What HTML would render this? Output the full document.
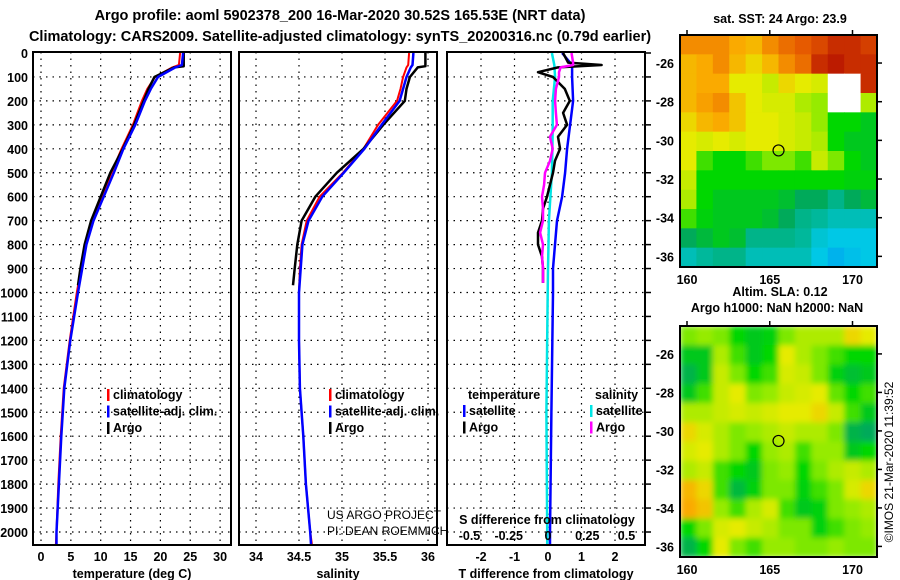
<!DOCTYPE html>
<html><head><meta charset="utf-8"><style>
html,body{margin:0;padding:0;background:#fff}
svg{display:block}
text{font-family:"Liberation Sans",sans-serif;font-weight:bold;font-size:12.5px;fill:#000}
</style></head><body>
<svg id="c" width="900" height="580" viewBox="0 0 900 580">
<text x="340" y="20" text-anchor="middle" style="font-size:14.5px">Argo profile: aoml 5902378_200 16-Mar-2020 30.52S 165.53E (NRT data)</text>
<text x="340" y="41" text-anchor="middle" style="font-size:14.5px">Climatology: CARS2009. Satellite-adjusted climatology: synTS_20200316.nc (0.79d earlier)</text>
</svg>
<script>
// ---- data ----
const depths=[0,50,60,100,150,200,300,400,500,600,700,800,900,1000,1200,1400,1600,1800,2000,2050];
const tempClim=[23.3,23.1,22.0,19.1,17.8,16.9,15.4,13.5,11.8,10.2,8.7,7.4,6.7,6.0,4.8,3.8,3.3,2.9,2.6,2.5];
const tempSat=[23.8,23.6,22.5,19.6,18.4,17.4,15.8,13.8,12.2,10.5,8.8,7.6,6.9,6.2,4.9,3.9,3.4,3.0,2.6,2.6];
const argoDepths=[0,55,60,100,150,200,300,400,500,600,700,800,900,970];
const tempArgo=[23.9,23.9,22.3,19.0,18.0,17.2,15.6,13.7,11.6,10.0,8.4,7.3,6.6,6.2];
const salClim=[35.78,35.77,35.75,35.71,35.68,35.64,35.42,35.25,35.01,34.74,34.59,34.53,34.51,34.50,34.50,34.51,34.55,34.58,34.63,34.65];
const salSat=[35.83,35.82,35.8,35.75,35.71,35.67,35.46,35.26,35.02,34.77,34.61,34.54,34.52,34.50,34.50,34.51,34.55,34.58,34.63,34.64];
const salArgo=[35.97,35.97,35.88,35.79,35.75,35.73,35.48,35.25,34.94,34.69,34.53,34.48,34.45,34.43];
const diffDepths=[0,50,100,200,300,400,500,600,700,800,900,1000,1500,2000,2050];
const tDiffSat=[0.42,0.72,0.72,0.75,0.66,0.57,0.51,0.42,0.27,0.21,0.15,0.15,0.1,0.06,0.06];
const sDiffSat=[0.025,0.04,0.045,0.03,0.03,0.028,0.025,0.015,0.006,0.003,0,-0.002,-0.01,-0.005,-0.005];
const argoDiffDepths=[0,40,50,60,80,100,150,200,250,300,350,400,450,500,550,600,650,700,750,800,850,900,960];
const tDiffArgo=[0.45,0.6,1.6,0.3,-0.3,0.15,0.5,0.65,0.45,0.57,0.3,0.36,0.21,0.15,0.06,-0.03,-0.15,-0.18,-0.3,-0.3,-0.18,-0.15,-0.15];
const sDiffArgo=[0.15,0.16,0.16,0.08,0.07,0.07,0.05,0.045,0.05,0.057,0.013,0.03,0.013,-0.019,-0.025,-0.038,-0.032,-0.032,-0.05,-0.032,-0.038,-0.032,-0.032];
const depthTicks=[0,100,200,300,400,500,600,700,800,900,1000,1100,1200,1300,1400,1500,1600,1700,1800,1900,2000];
const tempTicks=[0,5,10,15,20,25,30];
const salTicks=[34,34.5,35,35.5,36];
const tDiffTicks=[-2,-1,0,1,2];
const sDiffTicks=[-0.5,-0.25,0,0.25,0.5];
const sstGrid=[
[0.85,0.85,0.85,0.82,0.8,0.85,0.88,0.9,0.92,0.95,0.95,0.93],
[0.8,0.82,0.85,0.8,0.75,0.8,0.85,0.88,0.95,0.97,0.95,0.95],
[0.8,0.82,0.82,0.72,0.72,0.68,0.75,0.72,0.7,null,null,0.95],
[0.8,0.83,0.85,0.78,0.72,0.7,0.7,0.65,0.62,null,null,0.65],
[0.75,0.8,0.82,0.78,0.72,0.72,0.7,0.68,0.62,0.5,0.5,0.45],
[0.72,0.7,0.72,0.7,0.72,0.72,0.7,0.68,0.65,0.5,0.45,0.45],
[0.72,0.55,0.5,0.5,0.55,0.6,0.6,0.55,0.68,0.6,0.5,0.45],
[0.68,0.5,0.5,0.5,0.5,0.5,0.5,0.5,0.5,0.5,0.48,0.48],
[0.65,0.5,0.45,0.45,0.45,0.45,0.42,0.35,0.35,0.3,0.35,0.4],
[0.55,0.48,0.45,0.45,0.45,0.42,0.35,0.3,0.28,0.25,0.25,0.25],
[0.35,0.4,0.45,0.42,0.3,0.3,0.3,0.28,0.22,0.2,0.2,0.2],
[0.25,0.28,0.3,0.3,0.25,0.25,0.25,0.25,0.2,0.15,0.18,0.2]];
const slaGrid=[
[0.6,0.62,0.6,0.5,0.45,0.48,0.6,0.65,0.65,0.65,0.75,0.72],
[0.45,0.45,0.65,0.55,0.45,0.5,0.72,0.65,0.6,0.55,0.5,0.5],
[0.38,0.45,0.68,0.6,0.5,0.55,0.7,0.68,0.6,0.48,0.42,0.45],
[0.45,0.55,0.68,0.72,0.6,0.62,0.68,0.7,0.72,0.58,0.5,0.55],
[0.65,0.65,0.68,0.7,0.68,0.7,0.72,0.72,0.75,0.68,0.55,0.45],
[0.75,0.7,0.65,0.6,0.62,0.65,0.68,0.65,0.65,0.6,0.38,0.35],
[0.7,0.72,0.65,0.6,0.5,0.62,0.65,0.55,0.62,0.62,0.45,0.5],
[0.65,0.68,0.55,0.5,0.45,0.6,0.62,0.5,0.6,0.65,0.68,0.65],
[0.8,0.75,0.55,0.4,0.48,0.6,0.6,0.48,0.55,0.6,0.7,0.75],
[0.82,0.78,0.62,0.55,0.65,0.7,0.55,0.45,0.48,0.6,0.62,0.65],
[0.5,0.6,0.7,0.72,0.68,0.65,0.6,0.6,0.48,0.55,0.6,0.62],
[0.38,0.5,0.72,0.6,0.55,0.62,0.62,0.6,0.6,0.62,0.6,0.6]];
const latTicks=[-26,-28,-30,-32,-34,-36];
const lonTicks=[160,165,170];
const argoPos=[165.53,-30.52];

// ---- helpers ----
const svg=document.getElementById('c');
const NS='http://www.w3.org/2000/svg';
function mk(tag,attrs,parent){const e=document.createElementNS(NS,tag);for(const k in attrs)e.setAttribute(k,attrs[k]);(parent||svg).appendChild(e);return e;}
function txt(x,y,s,anchor,parent,extra){const t=mk('text',Object.assign({x:x,y:y,'text-anchor':anchor||'start'},extra||{}),parent);t.textContent=s;return t;}
const TOP=52,BOT=545;
const yD=d=>53+d*0.2395;
const panels=[{x0:33,x1:231},{x0:239,x1:437},{x0:447,x1:645}];
const xT=v=>41+v*5.97;
const xS=v=>256+(v-34)*86;
const xTd=v=>548+v*33.5;
const xSd=v=>548+v*157;

function grid(p,xs,name){
  const g=mk('g',{});
  
  
  depthTicks.forEach(d=>{if(d>0)mk('line',{x1:p.x0,x2:p.x1,y1:yD(d),y2:yD(d),stroke:'#000','stroke-width':1.2,'stroke-dasharray':'1.5,5'},g);});
  xs.forEach(x=>mk('line',{x1:x,x2:x,y1:TOP,y2:BOT,stroke:'#000','stroke-width':1.2,'stroke-dasharray':'1.5,5'},g));
}
function frame(p,name){const r=mk('rect',{x:p.x0,y:TOP,width:p.x1-p.x0,height:BOT-TOP,fill:'none',stroke:'#000','stroke-width':2});
  }
function stepLine(ds,vals,xf,color,w,name){
  let d='';
  for(let i=0;i<vals.length;i++){const x=xf(vals[i]).toFixed(1),y=yD(ds[i]).toFixed(1);d+=(i?'L':'M')+x+','+y;}
  const p=mk('path',{d:d,fill:'none',stroke:color,'stroke-width':w,'stroke-linejoin':'round'});
  
}
function xTickLabels(ticks,xf,y,name){
  const g=mk('g',{});
  ticks.forEach(t=>txt(xf(t),y,String(t),'middle',g));
}

const dg=mk('g',{});
depthTicks.forEach(d=>txt(28,yD(d)+5,String(d),'end',dg));

grid(panels[0],tempTicks.map(xT),'temperature-grid');
stepLine(depths,tempClim,xT,'#ff0000',2,'temp-climatology-line');
stepLine(argoDepths,tempArgo,xT,'#000',2.5,'temp-argo-line');
stepLine(depths,tempSat,xT,'#0000ff',2.5,'temp-satellite-line');
frame(panels[0],'temperature-panel');
xTickLabels(tempTicks,xT,561,'temperature-tick-labels');
txt(132,578,'temperature (deg C)','middle',null,{});

grid(panels[1],salTicks.map(xS),'salinity-grid');
stepLine(depths,salClim,xS,'#ff0000',2,'sal-climatology-line');
stepLine(argoDepths,salArgo,xS,'#000',2.5,'sal-argo-line');
stepLine(depths,salSat,xS,'#0000ff',2.5,'sal-satellite-line');
const cr=mk('g',{});
txt(327,519,'US ARGO PROJECT','start',cr,{style:'font-weight:normal;font-size:12px'});
txt(327,535,'PI: DEAN ROEMMICH','start',cr,{style:'font-weight:normal;font-size:12px'});
frame(panels[1],'salinity-panel');
xTickLabels(salTicks,xS,561,'salinity-tick-labels');
txt(338,578,'salinity','middle',null,{});

grid(panels[2],tDiffTicks.map(xTd),'difference-grid');
stepLine(diffDepths,sDiffSat,xSd,'#00e5e5',2.5,'sal-diff-satellite-line');
stepLine(diffDepths,tDiffSat,xTd,'#0000ff',2.5,'temp-diff-satellite-line');
stepLine(argoDiffDepths,tDiffArgo,xTd,'#000',2.5,'temp-diff-argo-line');
stepLine(argoDiffDepths,sDiffArgo,xSd,'#ff00ff',2.5,'sal-diff-argo-line');
frame(panels[2],'difference-panel');
depthTicks.forEach(d=>mk('line',{x1:645,x2:651,y1:yD(d),y2:yD(d),stroke:'#000','stroke-width':1.5}));
xTickLabels(tDiffTicks,xTd,561,'t-diff-tick-labels');
txt(546,578,'T difference from climatology','middle',null,{});
txt(547,524,'S difference from climatology','middle',null,{});
xTickLabels(sDiffTicks,xSd,540,'s-diff-tick-labels');

function legend(x,y,items,name){
  const g=mk('g',{});
  items.forEach((it,i)=>{mk('rect',{x:x-5,y:y+i*16.5-10,width:2.5,height:12,fill:it[1]},g);txt(x+1,y+i*16.5,it[0],'start',g);});
}
legend(112,399,[['climatology','#ff0000'],['satellite-adj. clim.','#0000ff'],['Argo','#000']],'temperature-legend');
legend(334,399,[['climatology','#ff0000'],['satellite-adj. clim.','#0000ff'],['Argo','#000']],'salinity-legend');
txt(468,399,'temperature','start',null,{});
txt(595,399,'salinity','start',null,{});
legend(468,415,[['satellite','#0000ff'],['Argo','#000']],'diff-temperature-legend');
legend(595,415,[['satellite','#00e5e5'],['Argo','#ff00ff']],'diff-salinity-legend');

function cmap(v){
  const stops=[[0,[0,110,255]],[0.2,[0,200,230]],[0.35,[0,170,90]],[0.5,[0,215,0]],[0.62,[150,235,0]],[0.72,[230,235,0]],[0.82,[250,170,0]],[0.9,[230,90,0]],[1,[170,0,0]]];
  for(let i=1;i<stops.length;i++){if(v<=stops[i][0]){const a=stops[i-1],b=stops[i],t=(v-a[0])/(b[0]-a[0]);
    return 'rgb('+a[1].map((c,k)=>Math.round(c+(b[1][k]-c)*t)).join(',')+')';}}
  return 'rgb(170,0,0)';
}
function drawMap(y0,y1,gridV,name,blur,latTop,latBot){
  const x0=680,x1=877;
  const lonX=l=>687+(l-160)*16.55;
  const latY=l=>y0+(latTop-l)*(y1-y0)/(latTop-latBot);
  const g=mk('g',{});
  const cg=mk('g',blur?{filter:'url(#blr)'}:{},g);
  const rows=gridV.length,cols=gridV[0].length,cw=(x1-x0)/cols,ch=(y1-y0)/rows;
  gridV.forEach((row,r)=>row.forEach((v,c)=>{
    const cell=mk('rect',{x:x0+c*cw,y:y0+r*ch,width:cw+0.6,height:ch+0.6,fill:v===null?'#fff':cmap(v)},cg);
    
    
  }));
  mk('rect',{x:x0,y:y0,width:x1-x0,height:y1-y0,fill:'none',stroke:'#000','stroke-width':2},g);
  latTicks.forEach(l=>{const y=latY(l);mk('line',{x1:x1,x2:x1+5,y1:y,y2:y,stroke:'#000','stroke-width':1.5},g);txt(x0-6,y+5,String(l),'end',g);});
  lonTicks.forEach(l=>{const x=lonX(l);mk('line',{x1:x,x2:x,y1:y0-5,y2:y0,stroke:'#000','stroke-width':1.5},g);txt(x,y1+17,String(l),'middle',g);});
  const m=mk('circle',{cx:lonX(argoPos[0]),cy:latY(argoPos[1]),r:5.5,fill:'none',stroke:'#000','stroke-width':1.2},g);
  
}
const defs=mk('defs',{});
const f=mk('filter',{id:'blr',x:'0',y:'0',width:'1',height:'1'},defs);
mk('feGaussianBlur',{stdDeviation:'3',edgeMode:'duplicate'},f);
drawMap(35,267,sstGrid,'sst-map',false,-24.55,-36.55);
drawMap(326,557,slaGrid,'sla-map',true,-24.55,-36.55);
txt(780,23,'sat. SST: 24 Argo: 23.9','middle',null,{});
txt(780,296,'Altim. SLA: 0.12','middle',null,{});
txt(777,312,'Argo h1000: NaN h2000: NaN','middle',null,{});
txt(893,462,'©IMOS 21-Mar-2020 11:39:52','middle',null,{transform:'rotate(-90 893 462)',style:'font-weight:normal;font-size:12px',});
</script>
</body></html>
